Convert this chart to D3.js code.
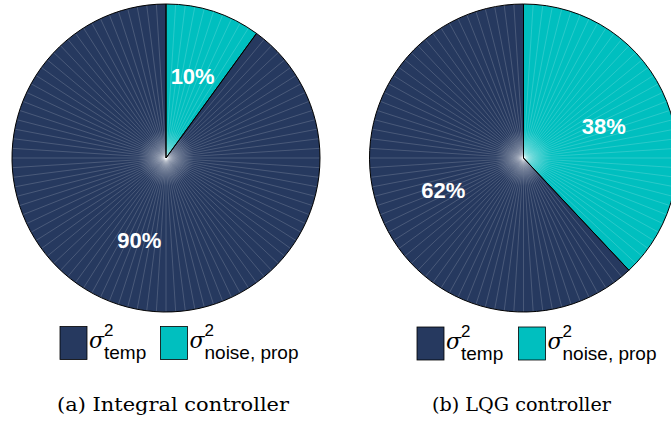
<!DOCTYPE html>
<html>
<head>
<meta charset="utf-8">
<script src="https://cdn.jsdelivr.net/npm/d3@7"></script>
<style>
  body { margin: 0; background: #fff; }
  svg { display: block; }
</style>
</head>
<body>
<svg id="chart" width="671" height="423"></svg>
<script>
// shares in percent, order: sigma_temp, sigma_noise,prop
var categories = ["temp", "noise, prop"];
var integralValues = [90, 10];
var lqgValues = [62, 38];
var captions = ["(a) Integral controller", "(b) LQG controller"];
var colors = ["#26395f", "#00bfbf"];

var svg = d3.select("#chart");
var radius = 154;

// soft light spot in the middle (rendering moire of the original)
var defs = svg.append("defs");
var grad = defs.append("radialGradient").attr("id", "glow");
grad.append("stop").attr("offset", "0%").attr("stop-color", "#fff").attr("stop-opacity", 0.35);
grad.append("stop").attr("offset", "100%").attr("stop-color", "#fff").attr("stop-opacity", 0);

function drawPie(values, cx, cy) {
    var g = svg.append("g")
        .attr("transform", "translate(" + cx + "," + cy + ")");

    // reverse order so the cyan slice starts at 12 o'clock, going clockwise
    var arcs = d3.pie().sort(null).value(d => d.v)(
        values.map((v, i) => ({ v: v, i: i })).reverse()
    );

    var arc = d3.arc().innerRadius(0).outerRadius(radius);
    var labelArc = d3.arc().innerRadius(radius * 0.56).outerRadius(radius * 0.56);

    g.selectAll("path.slice")
        .data(arcs)
        .join("path")
        .attr("class", "slice")
        .attr("d", arc)
        .attr("fill", d => colors[d.data.i]);

    // faint radial seams, one per percent
    var seams = d3.range(0, 100);
    var ang = d3.scaleLinear().domain([0, 100]).range([0, 2 * Math.PI]);
    g.append("g")
        .selectAll("line")
        .data(seams)
        .join("line")
        .attr("x1", 0).attr("y1", 0)
        .attr("x2", d => radius * Math.sin(ang(d)))
        .attr("y2", d => -radius * Math.cos(ang(d)))
        .attr("stroke", "#ffffff")
        .attr("stroke-opacity", 0.28)
        .attr("stroke-width", 0.6);

    g.append("circle")
        .attr("r", 28)
        .attr("fill", "url(#glow)");

    g.selectAll("path.edge")
        .data(arcs)
        .join("path")
        .attr("class", "edge")
        .attr("d", arc)
        .attr("fill", "none")
        .attr("stroke", "#000")
        .attr("stroke-width", 1);

    g.selectAll("text")
        .data(arcs)
        .join("text")
        .attr("transform", d => "translate(" + labelArc.centroid(d) + ")")
        .attr("text-anchor", "middle")
        .attr("dy", "0.36em")
        .attr("fill", "#fff")
        .style("font", "bold 22px 'Liberation Sans', Arial, sans-serif")
        .text(d => d.data.v + "%");
}

function drawLegend(x0, y0, x1, caption, capX, capLen) {
    var items = [x0, x1];
    var lg = svg.append("g")
        .style("font-family", "'Liberation Sans', Arial, sans-serif")
        .attr("fill", "#000");
    items.forEach(function (x, i) {
        lg.append("rect")
            .attr("x", x).attr("y", y0)
            .attr("width", 27).attr("height", 33)
            .attr("fill", colors[i])
            .attr("stroke", "#000")
            .attr("stroke-width", 0.8);
        lg.append("text")
            .attr("x", x + 29).attr("y", y0 + 21.5)
            .style("font-family", "'DejaVu Serif', serif")
            .style("font-style", "italic")
            .style("font-size", "22px")
            .text("σ");
        lg.append("text")
            .attr("x", x + 44).attr("y", y0 + 9.5)
            .style("font-size", "17px")
            .text("2");
        lg.append("text")
            .attr("x", x + 44).attr("y", y0 + 32.5)
            .style("font-size", "19px")
            .text(categories[i]);
    });
    svg.append("text")
        .attr("x", capX).attr("y", 411)
        .attr("textLength", capLen)
        .attr("lengthAdjust", "spacingAndGlyphs")
        .style("font", "18px 'DejaVu Serif', serif")
        .attr("fill", "#000")
        .text(caption);
}

drawPie(integralValues, 166, 158);
drawPie(lqgValues, 523.5, 158);
drawLegend(60, 326.5, 160.5, captions[0], 57, 232);
drawLegend(417, 327, 518.5, captions[1], 432, 179);
</script>
</body>
</html>
